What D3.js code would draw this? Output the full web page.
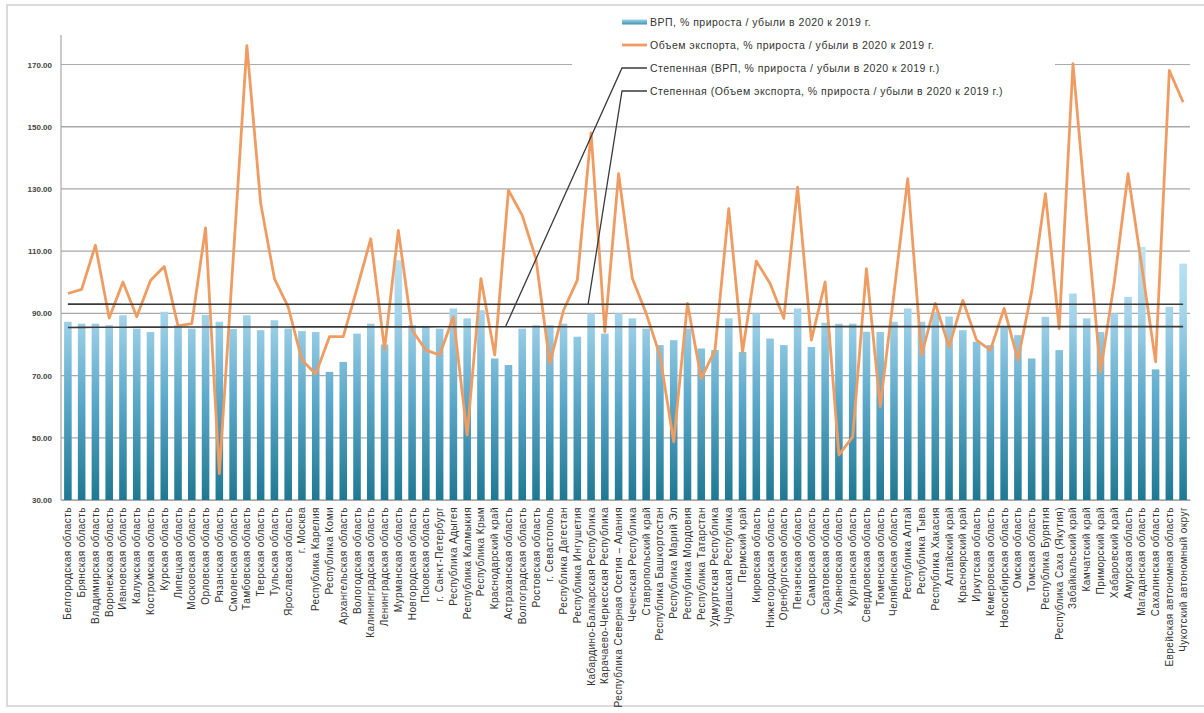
<!DOCTYPE html>
<html lang="ru">
<head>
<meta charset="utf-8">
<script src="https://cdn.jsdelivr.net/npm/d3@7"></script>
<style>
  html, body { margin: 0; padding: 0; background: #fff; }
  svg { display: block; }
</style>
</head>
<body>
<svg id="chart" width="1204" height="713"></svg>
<script>
// Регионы РФ в порядке федеральных округов
const categories = [
  "Белгородская область", "Брянская область", "Владимирская область", "Воронежская область",
  "Ивановская область", "Калужская область", "Костромская область", "Курская область",
  "Липецкая область", "Московская область", "Орловская область", "Рязанская область",
  "Смоленская область", "Тамбовская область", "Тверская область", "Тульская область",
  "Ярославская область", "г. Москва", "Республика Карелия", "Республика Коми",
  "Архангельская область", "Вологодская область", "Калининградская область", "Ленинградская область",
  "Мурманская область", "Новгородская область", "Псковская область", "г. Санкт-Петербург",
  "Республика Адыгея", "Республика Калмыкия", "Республика Крым", "Краснодарский край",
  "Астраханская область", "Волгоградская область", "Ростовская область", "г. Севастополь",
  "Республика Дагестан", "Республика Ингушетия", "Кабардино-Балкарская Республика", "Карачаево-Черкесская Республика",
  "Республика Северная Осетия – Алания", "Чеченская Республика", "Ставропольский край", "Республика Башкортостан",
  "Республика Марий Эл", "Республика Мордовия", "Республика Татарстан", "Удмуртская Республика",
  "Чувашская Республика", "Пермский край", "Кировская область", "Нижегородская область",
  "Оренбургская область", "Пензенская область", "Самарская область", "Саратовская область",
  "Ульяновская область", "Курганская область", "Свердловская область", "Тюменская область",
  "Челябинская область", "Республика Алтай", "Республика Тыва", "Республика Хакасия",
  "Алтайский край", "Красноярский край", "Иркутская область", "Кемеровская область",
  "Новосибирская область", "Омская область", "Томская область", "Республика Бурятия",
  "Республика Саха (Якутия)", "Забайкальский край", "Камчатский край", "Приморский край",
  "Хабаровский край", "Амурская область", "Магаданская область", "Сахалинская область",
  "Еврейская автономная область", "Чукотский автономный округ"
];

// ВРП, % прироста / убыли в 2020 к 2019 г.
const gdpValues = [
  87.3, 86.7, 86.7, 86.2, 89.4, 85.1, 84.0, 90.5, 86.2, 85.1,
  89.5, 87.3, 85.0, 89.4, 84.6, 87.8, 85.1, 84.3, 84.0, 71.2,
  74.4, 83.5, 86.7, 80.0, 107.1, 86.2, 86.0, 85.1, 91.6, 88.4,
  91.0, 75.5, 73.4, 85.1, 86.2, 86.2, 86.7, 82.5, 90.0, 83.5,
  90.0, 88.4, 85.1, 79.8, 81.4, 85.1, 78.7, 78.2, 88.4, 77.6,
  90.0, 81.9, 79.8, 91.6, 79.2, 87.0, 86.7, 86.7, 84.1, 84.0,
  87.3, 91.6, 87.3, 90.5, 89.0, 84.6, 80.9, 79.8, 85.7, 83.0,
  75.5, 88.9, 78.2, 96.4, 88.4, 84.0, 90.0, 95.3, 111.4, 72.0,
  92.1, 106.0
];

// Объем экспорта, % прироста / убыли в 2020 к 2019 г.
const exportValues = [
  96.4, 97.7, 111.9, 88.5, 100.1, 88.9, 100.6, 105.1, 86.0, 86.7,
  117.5, 38.5, 107.0, 176.1, 125.5, 101.2, 92.1, 75.0, 70.5, 82.5,
  82.5, 98.0, 114.0, 78.5, 116.7, 84.6, 78.2, 76.6, 88.9, 50.9,
  101.2, 76.6, 129.6, 121.5, 107.5, 73.9, 91.0, 100.7, 148.0, 84.1,
  134.9, 101.2, 90.0, 76.5, 48.7, 93.2, 69.1, 78.2, 123.7, 77.6,
  106.8, 99.6, 88.4, 130.6, 81.4, 100.1, 44.5, 50.3, 104.4, 60.0,
  96.5, 133.3, 76.6, 93.2, 79.2, 94.2, 81.4, 78.2, 91.6, 75.0,
  97.0, 128.5, 85.1, 170.3, 120.0, 71.2, 100.0, 134.9, 105.0, 74.4,
  168.1, 157.9
];

const yTicks = [30, 50, 70, 90, 110, 130, 150, 170];

const legendLabels = [
  "ВРП, % прироста / убыли в 2020 к 2019 г.",
  "Объем экспорта, % прироста / убыли в 2020 к 2019 г.",
  "Степенная (ВРП, % прироста / убыли в 2020 к 2019 г.)",
  "Степенная (Объем экспорта, % прироста / убыли в 2020 к 2019 г.)"
];

// Степенная линия тренда y = a·x^b (МНК в логарифмах), x = 1..n
function powerTrend(values) {
  const n = values.length;
  let sx = 0, sy = 0, sxx = 0, sxy = 0;
  values.forEach((v, i) => {
    const lx = Math.log(i + 1), ly = Math.log(v);
    sx += lx; sy += ly; sxx += lx * lx; sxy += lx * ly;
  });
  const b = (n * sxy - sx * sy) / (n * sxx - sx * sx);
  const a = Math.exp((sy - b * sx) / n);
  return values.map((_, i) => a * Math.pow(i + 1, b));
}
const gdpTrend = powerTrend(gdpValues);
const exportTrend = powerTrend(exportValues);

const svg = d3.select("#chart");
const plotLeft = 61, plotRight = 1190, plotTop = 35, plotBottom = 500;

const x = d3.scaleBand().domain(categories).range([plotLeft, plotRight])
  .paddingInner(0.45).paddingOuter(0.225);
const y = d3.scaleLinear().domain([30, 179.5]).range([plotBottom, plotTop]);
const cx = d => x(d) + x.bandwidth() / 2;

// рамка области диаграммы
svg.append("rect").attr("x", 7).attr("y", 5).attr("width", 1210).attr("height", 701)
  .attr("fill", "#fff").attr("stroke", "#d0d0d0").attr("stroke-width", 1.5);

const defs = svg.append("defs");
const grad = defs.append("linearGradient").attr("id", "barFill")
  .attr("gradientUnits", "userSpaceOnUse")
  .attr("x1", 0).attr("x2", 0).attr("y1", y(115)).attr("y2", y(30));
grad.append("stop").attr("offset", "0%").attr("stop-color", "#c6e7f6");
grad.append("stop").attr("offset", "30%").attr("stop-color", "#a4d3ea");
grad.append("stop").attr("offset", "62%").attr("stop-color", "#5ca9ca");
grad.append("stop").attr("offset", "100%").attr("stop-color", "#1f7891");

const swatch = defs.append("linearGradient").attr("id", "swatchFill")
  .attr("x1", 0).attr("x2", 0).attr("y1", 0).attr("y2", 1);
swatch.append("stop").attr("offset", "0%").attr("stop-color", "#9fd2ea");
swatch.append("stop").attr("offset", "100%").attr("stop-color", "#3d93b4");

// горизонтальные линии сетки
svg.append("g").selectAll("line").data(yTicks).join("line")
  .attr("x1", plotLeft).attr("x2", plotRight)
  .attr("y1", d => y(d)).attr("y2", d => y(d))
  .attr("stroke", "#a8a8a8").attr("stroke-width", d => d === 170 ? 1 : 1.3);

// вертикальная ось
svg.append("line").attr("x1", plotLeft).attr("x2", plotLeft).attr("y1", plotTop).attr("y2", plotBottom)
  .attr("stroke", "#a8a8a8").attr("stroke-width", 1.2);

const yAxis = svg.append("g").attr("transform", `translate(${plotLeft},0)`)
  .call(d3.axisLeft(y).tickValues(yTicks).tickFormat(d3.format(".2f")).tickSize(0).tickPadding(9));
yAxis.select(".domain").remove();
yAxis.selectAll("text").attr("font-family", "Liberation Sans, Arial, sans-serif")
  .attr("font-size", 8).attr("font-weight", "bold").attr("fill", "#444");

// столбцы ВРП
svg.append("g").selectAll("rect").data(categories).join("rect")
  .attr("x", d => x(d)).attr("width", x.bandwidth())
  .attr("y", (d, i) => y(gdpValues[i]))
  .attr("height", (d, i) => y(30) - y(gdpValues[i]))
  .attr("fill", "url(#barFill)");

// подписи категорий
const xAxis = svg.append("g").attr("transform", `translate(0,${plotBottom})`)
  .call(d3.axisBottom(x).tickSize(0));
xAxis.select(".domain").attr("stroke", "#a8a8a8");
xAxis.selectAll("text")
  .attr("transform", "rotate(-90)")
  .attr("x", -7).attr("y", 0).attr("dy", "0.35em")
  .attr("text-anchor", "end")
  .attr("font-family", "Liberation Sans, Arial, sans-serif")
  .attr("font-size", 10).attr("letter-spacing", 0.45).attr("fill", "#333");

// линия экспорта
svg.append("path").datum(exportValues)
  .attr("fill", "none").attr("stroke", "#ef9c63").attr("stroke-width", 2.8)
  .attr("stroke-linejoin", "round")
  .attr("d", d3.line().x((d, i) => cx(categories[i])).y(d => y(d)));

// линии тренда
const trendLine = d3.line().x((d, i) => cx(categories[i])).y(d => y(d));
svg.append("path").datum(gdpTrend).attr("fill", "none")
  .attr("stroke", "#3a3a3a").attr("stroke-width", 1.6).attr("d", trendLine);
svg.append("path").datum(exportTrend).attr("fill", "none")
  .attr("stroke", "#3a3a3a").attr("stroke-width", 1.6).attr("d", trendLine);

// легенда
const legend = svg.append("g");
legend.append("rect").attr("x", 572).attr("y", 8).attr("width", 483).attr("height", 96).attr("fill", "#fff");
const rowY = [22, 45, 68, 91];
const symX0 = 622, symX1 = 647, textX = 650;

legend.append("rect").attr("x", symX0).attr("y", rowY[0] - 2.5).attr("width", symX1 - symX0).attr("height", 5)
  .attr("fill", "url(#swatchFill)");
legend.append("line").attr("x1", symX0).attr("x2", symX1).attr("y1", rowY[1]).attr("y2", rowY[1])
  .attr("stroke", "#ef9c63").attr("stroke-width", 2.8);

// символы степенных линий с выносками к линиям тренда
const leaders = [
  { row: 2, idx: 32, trend: gdpTrend },
  { row: 3, idx: 38, trend: exportTrend }
];
leaders.forEach(l => {
  const px = cx(categories[l.idx]) - 3, py = y(l.trend[l.idx]);
  legend.append("polyline")
    .attr("points", `${symX1},${rowY[l.row]} ${symX0},${rowY[l.row]} ${px},${py}`)
    .attr("fill", "none").attr("stroke", "#3a3a3a").attr("stroke-width", 1.3);
});

legend.selectAll("text.lbl").data(legendLabels).join("text").attr("class", "lbl")
  .attr("x", textX).attr("y", (d, i) => rowY[i]).attr("dy", "0.35em")
  .attr("font-family", "Liberation Sans, Arial, sans-serif")
  .attr("font-size", 10.5).attr("letter-spacing", 0.5).attr("fill", "#333")
  .text(d => d);
</script>
</body>
</html>
